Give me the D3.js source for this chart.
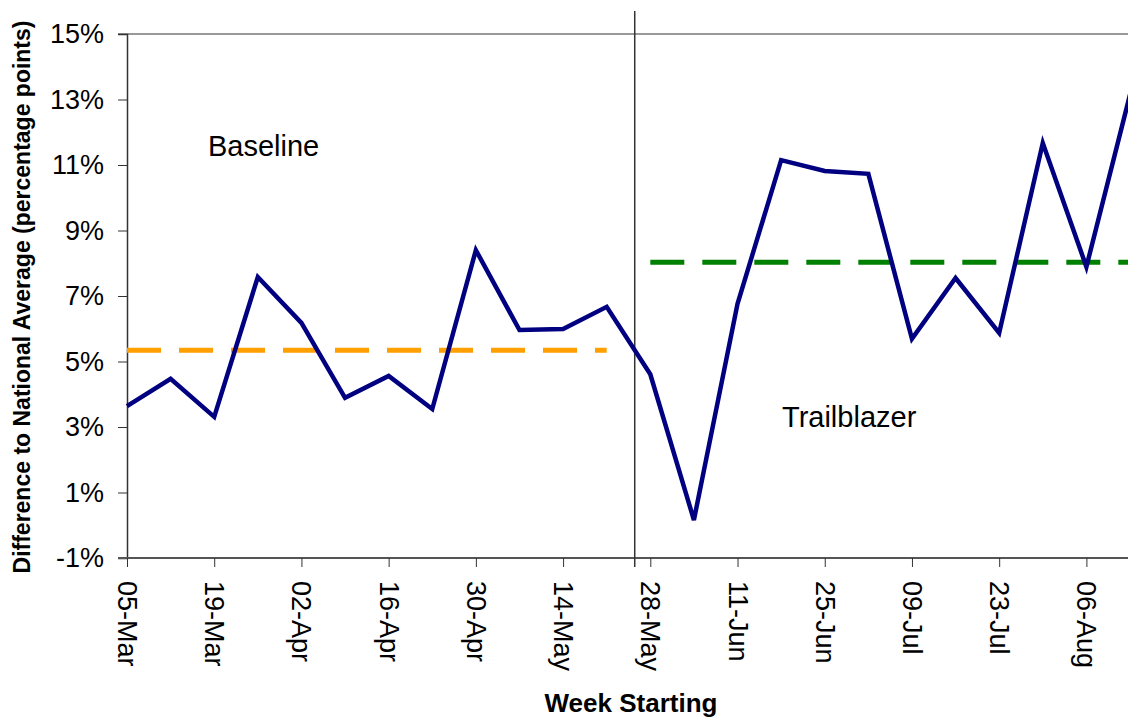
<!DOCTYPE html>
<html>
<head>
<meta charset="utf-8">
<script src="https://cdn.jsdelivr.net/npm/d3@7"></script>
<style>
  body { margin: 0; background: #fff; }
  text { font-family: "Liberation Sans", Arial, sans-serif; }
</style>
</head>
<body>
<svg id="chart" width="1128" height="718"></svg>
<script>
// weekly values, 05-Mar to 13-Aug
const weeks = ['05-Mar', '12-Mar', '19-Mar', '26-Mar', '02-Apr', '09-Apr', '16-Apr', '23-Apr',
  '30-Apr', '07-May', '14-May', '21-May', '28-May', '04-Jun', '11-Jun', '18-Jun', '25-Jun',
  '02-Jul', '09-Jul', '16-Jul', '23-Jul', '30-Jul', '06-Aug', '13-Aug'];
const values = [3.64, 4.47, 3.31, 7.58, 6.18, 3.89, 4.56, 3.55, 8.40, 5.96, 5.99, 6.67,
  4.61, 0.16, 6.76, 11.15, 10.82, 10.73, 5.69, 7.55, 5.87, 11.67, 7.89, 13.15];
const tickLabels = ['05-Mar', '19-Mar', '02-Apr', '16-Apr', '30-Apr', '14-May', '28-May',
  '11-Jun', '25-Jun', '09-Jul', '23-Jul', '06-Aug'];
const yTicks = [-1, 1, 3, 5, 7, 9, 11, 13, 15];
const baselineAvg = { from: '05-Mar', to: '21-May', value: 5.34 };
const trailAvg = { from: '28-May', to: '13-Aug', value: 8.03 };
const splitDate = '25-May';

const parse = s => d3.timeParse('%d-%b-%Y')(s + '-2007');
const font = '"Liberation Sans", Arial, sans-serif';

const svg = d3.select('#chart');
const x = d3.scaleTime()
  .domain([parse(weeks[0]), parse(weeks[weeks.length - 1])])
  .range([127, 1130]);
const y = d3.scaleLinear().domain([-1, 15]).range([558, 34]);

// top border
svg.append('line')
  .attr('x1', 118).attr('x2', 1128)
  .attr('y1', y(15)).attr('y2', y(15))
  .attr('stroke', '#999').attr('stroke-width', 2);

// y axis
const yAxis = svg.append('g')
  .attr('transform', 'translate(127,0)')
  .call(d3.axisLeft(y).tickValues(yTicks).tickSize(9).tickPadding(14)
    .tickFormat(d => d + '%'));
yAxis.select('.domain').attr('stroke', '#333').attr('stroke-width', 1.5);
yAxis.selectAll('.tick line').attr('stroke', '#333');
yAxis.selectAll('.tick text')
  .attr('font-size', 27).attr('fill', '#000').attr('font-family', font);

// x axis
const xAxis = svg.append('g')
  .attr('transform', `translate(0,${y(-1)})`)
  .call(d3.axisBottom(x).tickValues(tickLabels.map(parse)).tickSize(9)
    .tickFormat(d3.timeFormat('%d-%b')));
xAxis.select('.domain').attr('stroke', '#555').attr('stroke-width', 2)
  .attr('d', 'M118,0H1128');
xAxis.selectAll('.tick line').attr('stroke', '#333');
xAxis.selectAll('.tick text')
  .attr('font-size', 27).attr('fill', '#000').attr('font-family', font)
  .attr('transform', 'rotate(90)')
  .attr('text-anchor', 'start')
  .attr('x', 23).attr('y', 0).attr('dy', '0.35em');

// divider
svg.append('line')
  .attr('x1', x(d3.timeHour.offset(parse(splitDate), 12)))
  .attr('x2', x(d3.timeHour.offset(parse(splitDate), 12)))
  .attr('y1', 11).attr('y2', 567)
  .attr('stroke', '#333').attr('stroke-width', 1.5);

// average lines
[[baselineAvg, '#FF9F00'], [trailAvg, '#008000']].forEach(([a, c]) => {
  svg.append('line')
    .attr('x1', x(parse(a.from))).attr('x2', x(parse(a.to)))
    .attr('y1', y(a.value)).attr('y2', y(a.value))
    .attr('stroke', c).attr('stroke-width', 5)
    .attr('stroke-dasharray', '34,18');
});

// main series
const line = d3.line()
  .x((d, i) => x(parse(weeks[i])))
  .y(d => y(d));
svg.append('path')
  .datum(values)
  .attr('d', line)
  .attr('fill', 'none')
  .attr('stroke', '#000080')
  .attr('stroke-width', 4.5)
  .attr('stroke-linejoin', 'miter');

// annotations
svg.append('text').attr('x', 208).attr('y', 156)
  .attr('font-size', 29).text('Baseline');
svg.append('text').attr('x', 782).attr('y', 427)
  .attr('font-size', 29).text('Trailblazer');

// axis titles
svg.append('text')
  .attr('transform', 'translate(30,297) rotate(-90)')
  .attr('text-anchor', 'middle')
  .attr('font-size', 23).attr('font-weight', 'bold')
  .text('Difference to National Average (percentage points)');
svg.append('text')
  .attr('x', 631).attr('y', 712)
  .attr('text-anchor', 'middle')
  .attr('font-size', 26).attr('font-weight', 'bold')
  .text('Week Starting');
</script>
</body>
</html>
